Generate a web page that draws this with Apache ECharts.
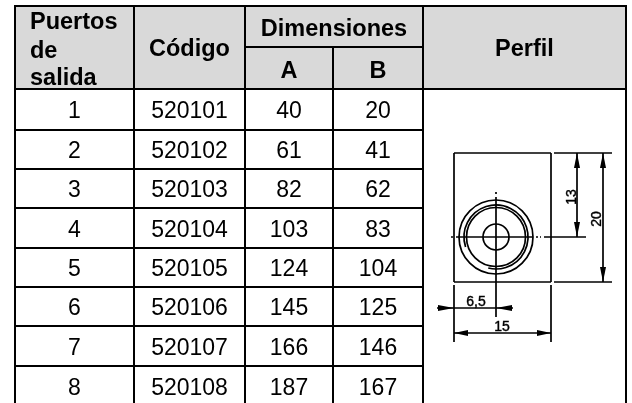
<!DOCTYPE html>
<html>
<head>
<meta charset="utf-8">
<style>
  html, body { margin: 0; padding: 0; background: #fff; }
  #chart { width: 632px; height: 403px; }
</style>
<script src="https://cdn.jsdelivr.net/npm/echarts@6/dist/echarts.min.js"></script>
</head>
<body>
<div id="chart"></div>
<script>
// table content
const puertos = ["1", "2", "3", "4", "5", "6", "7", "8"];
const codigos = ["520101", "520102", "520103", "520104", "520105", "520106", "520107", "520108"];
const dimA = ["40", "61", "82", "103", "124", "145", "166", "187"];
const dimB = ["20", "41", "62", "83", "104", "125", "146", "167"];

// table rulings, in the hidden axes' units
const colEdges = [15, 134, 245, 333, 423, 626];
const rowEdges = [89, 130, 169, 208, 248, 287, 326, 366, 406];
const headTop = 6;
const headMid = 47;

// profile drawing, same units
const perfilLineas = [
    [454, 153, 551, 153], [454, 282, 551, 282], [454, 153, 454, 282], [551, 153, 551, 282],
    // centre lines
    [496, 197, 496, 317], [496, 192, 496, 194],
    [456, 237, 533, 237], [451, 237, 453, 237], [536, 237, 538, 237], [540, 237, 541, 237], [544, 237, 586, 237],
    // extension lines
    [554, 153, 612, 153], [554, 282, 612, 282],
    [454, 285, 454, 342], [551, 285, 551, 342],
    // dimension lines
    [577, 153, 577, 237], [603, 153, 603, 282],
    [437, 308, 513, 308], [454, 333, 551, 333],
];
const perfilArcos = [
    [496, 237, 37, 0, 360],
    [496, 237, 32, 162, 464],
    [496, 237, 29.5, 0, 360],
    [496, 237, 13, 0, 360],
];
const perfilFlechas = [
    [577, 153, 577, 168], [577, 237, 577, 222],
    [603, 153, 603, 168], [603, 282, 603, 267],
    [454, 308, 438, 308], [496, 308, 512, 308],
    [454, 333, 468, 333], [551, 333, 537, 333],
];
const perfilCotas = ["13", "20", "6,5", "15"];
const perfilCotasPos = [[572, 197, 90], [597, 219, 90], [476, 302, 0], [502, 327, 0]];

const ink = "#000";
const cabecera = "#d9d9d9";
const fontBody = '23px "Liberation Sans", Arial, sans-serif';
const fontHead = 'bold 23.5px "Liberation Sans", Arial, sans-serif';
const fontCota = '14px "Liberation Sans Narrow", "Liberation Sans", sans-serif';

const midX = (i) => (colEdges[i] + colEdges[i + 1]) / 2;

// header fill
const fondos = [[colEdges[0], headTop, colEdges[5], rowEdges[0]]];

// rulings
const lineas = [
    [colEdges[0], headTop, colEdges[5], headTop],
    [colEdges[2], headMid, colEdges[4], headMid],
    [colEdges[0], rowEdges[0], colEdges[5], rowEdges[0]],
];
rowEdges.slice(1, 8).forEach((y) => lineas.push([colEdges[0], y, colEdges[4], y]));
[0, 1, 2, 4, 5].forEach((i) => lineas.push([colEdges[i], headTop - 1, colEdges[i], 403]));
lineas.push([colEdges[3], headMid, colEdges[3], 403]);

// cell texts
const textos = [
    { t: "Puertos", x: 30, y: 23, font: fontHead, align: "left" },
    { t: "de", x: 30, y: 52, font: fontHead, align: "left" },
    { t: "salida", x: 30, y: 79, font: fontHead, align: "left" },
    { t: "Código", x: midX(1), y: 49.5, font: fontHead, align: "center" },
    { t: "Dimensiones", x: (colEdges[2] + colEdges[4]) / 2, y: 29.5, font: fontHead, align: "center" },
    { t: "A", x: midX(2), y: 72, font: fontHead, align: "center" },
    { t: "B", x: midX(3), y: 72, font: fontHead, align: "center" },
    { t: "Perfil", x: midX(4), y: 49.5, font: fontHead, align: "center" },
];
puertos.forEach((p, i) => {
    const y = (rowEdges[i] + rowEdges[i + 1]) / 2 + 2.5;
    [p, codigos[i], dimA[i], dimB[i]].forEach((t, c) => {
        textos.push({ t: t, x: midX(c), y: y, font: fontBody, align: "center" });
    });
});

const chart = echarts.init(document.getElementById("chart"), null, { renderer: "canvas" });

function renderFondo(params, api) {
    const a = api.coord([api.value(0), api.value(1)]);
    const b = api.coord([api.value(2), api.value(3)]);
    return {
        type: "rect",
        shape: { x: a[0], y: a[1], width: b[0] - a[0], height: b[1] - a[1] },
        style: { fill: cabecera },
    };
}

function renderLinea(width) {
    return function (params, api) {
        const a = api.coord([api.value(0), api.value(1)]);
        const b = api.coord([api.value(2), api.value(3)]);
        return {
            type: "line",
            shape: { x1: a[0], y1: a[1], x2: b[0], y2: b[1] },
            style: { stroke: ink, lineWidth: width, fill: null, lineCap: "butt" },
        };
    };
}

function renderTexto(params, api) {
    const c = textos[params.dataIndex];
    const p = api.coord([api.value(0), api.value(1)]);
    return {
        type: "text",
        style: {
            x: p[0], y: p[1], text: c.t, font: c.font,
            fill: ink, align: c.align, verticalAlign: "middle",
        },
    };
}

function renderArco(params, api) {
    const p = api.coord([api.value(0), api.value(1)]);
    const r = api.size([api.value(2), 0])[0];
    return {
        type: "arc",
        shape: {
            cx: p[0], cy: p[1], r: r,
            startAngle: (api.value(3) * Math.PI) / 180,
            endAngle: (api.value(4) * Math.PI) / 180,
            clockwise: true,
        },
        style: { stroke: ink, lineWidth: 1.7, fill: null },
    };
}

function renderFlecha(params, api) {
    const tip = api.coord([api.value(0), api.value(1)]);
    const tail = api.coord([api.value(2), api.value(3)]);
    const dx = tail[0] - tip[0];
    const dy = tail[1] - tip[1];
    const len = Math.sqrt(dx * dx + dy * dy);
    const nx = (-dy / len) * 3;
    const ny = (dx / len) * 3;
    return {
        type: "polygon",
        shape: {
            points: [
                tip,
                [tail[0] + nx, tail[1] + ny],
                [tail[0] - nx, tail[1] - ny],
            ],
        },
        style: { fill: ink },
    };
}

function renderCota(params, api) {
    const p = api.coord([api.value(0), api.value(1)]);
    return {
        type: "text",
        x: p[0],
        y: p[1],
        rotation: (api.value(2) * Math.PI) / 180,
        style: {
            x: 0, y: 0, text: perfilCotas[params.dataIndex], font: fontCota,
            fill: ink, stroke: ink, lineWidth: 0.4, align: "center", verticalAlign: "middle",
        },
    };
}

function capa(name, data, renderItem, encodeX, encodeY) {
    return {
        name: name,
        type: "custom",
        coordinateSystem: "cartesian2d",
        silent: true,
        clip: false,
        animation: false,
        encode: { x: encodeX, y: encodeY },
        data: data,
        renderItem: renderItem,
    };
}

chart.setOption({
    backgroundColor: "#fff",
    animation: false,
    grid: { left: 0, right: 0, top: 0, bottom: 0 },
    xAxis: { type: "value", min: 0, max: 632, show: false },
    yAxis: { type: "value", min: 0, max: 403, inverse: true, show: false },
    series: [
        capa("cabecera", fondos, renderFondo, [0, 2], [1, 3]),
        capa("tabla", lineas, renderLinea(2), [0, 2], [1, 3]),
        capa("textos", textos.map((c) => [c.x, c.y]), renderTexto, 0, 1),
        capa("perfil", perfilLineas, renderLinea(1.7), [0, 2], [1, 3]),
        capa("perfilArcos", perfilArcos, renderArco, 0, 1),
        capa("perfilFlechas", perfilFlechas, renderFlecha, [0, 2], [1, 3]),
        capa("perfilCotas", perfilCotasPos, renderCota, 0, 1),
    ],
});

window.addEventListener("resize", () => chart.resize());
</script>
</body>
</html>
